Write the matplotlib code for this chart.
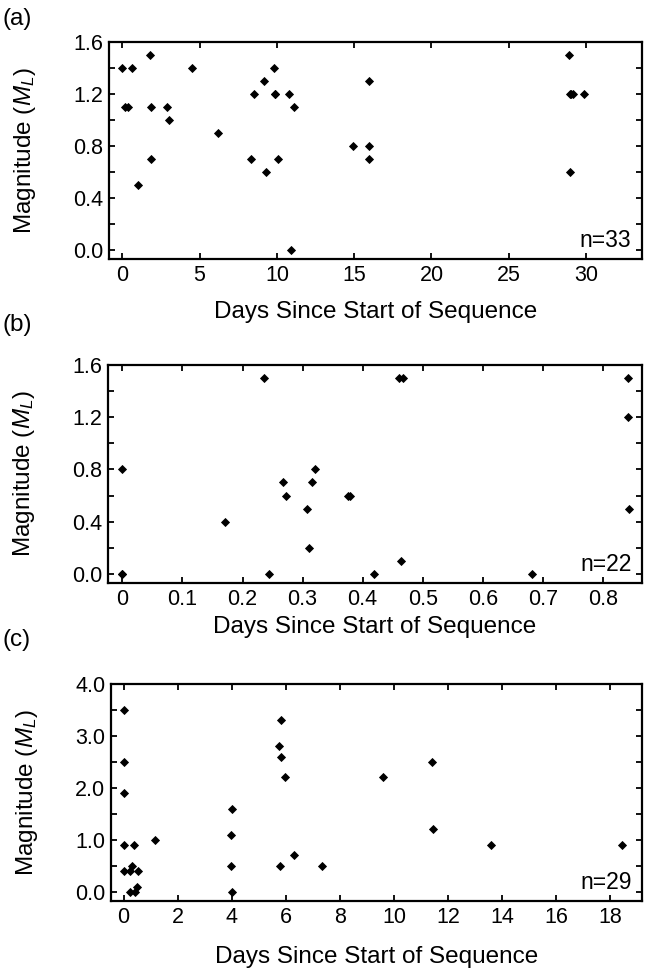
import matplotlib
matplotlib.use("Agg")
import matplotlib.pyplot as plt
from matplotlib.ticker import MultipleLocator, FormatStrFormatter

plt.rcParams['font.family'] = ['Liberation Sans', 'DejaVu Sans']
plt.rcParams['mathtext.fontset'] = 'custom'
plt.rcParams['mathtext.rm'] = 'Liberation Sans'
plt.rcParams['mathtext.it'] = 'Liberation Sans:italic'

# panel (a)
a_days = [0.0, 0.6, 1.8, 4.5, 0.2, 0.4, 1.85, 2.9, 3.0, 6.2, 1.85, 1.0,
          8.55, 9.15, 9.8, 9.85, 10.8, 11.1, 8.3, 9.3, 10.05, 10.9,
          14.95, 15.95, 15.95, 15.95, 28.9, 28.95, 29.15, 29.85, 28.95,
          29.0, 9.85]
a_mag = [1.4, 1.4, 1.5, 1.4, 1.1, 1.1, 1.1, 1.1, 1.0, 0.9, 0.7, 0.5,
         1.2, 1.3, 1.4, 1.2, 1.2, 1.1, 0.7, 0.6, 0.7, 0.0,
         0.8, 0.8, 0.7, 1.3, 1.5, 1.2, 1.2, 1.2, 0.6,
         1.2, 1.2]

# panel (b)
b_days = [0.0, 0.0, 0.17, 0.235, 0.244, 0.267, 0.273, 0.308, 0.31, 0.315,
          0.32, 0.375, 0.379, 0.419, 0.461, 0.467, 0.463, 0.682, 0.841,
          0.841, 0.844, 0.0]
b_mag = [0.8, 0.0, 0.4, 1.5, 0.0, 0.7, 0.6, 0.5, 0.2, 0.7,
         0.8, 0.6, 0.6, 0.0, 1.5, 1.5, 0.1, 0.0, 1.5,
         1.2, 0.5, 0.0]

# panel (c)
c_days = [0.0, 0.02, 0.02, 0.0, 0.39, 1.17, 0.02, 0.22, 0.31, 0.52, 0.22,
          0.41, 0.49, 4.02, 3.98, 3.98, 4.02, 5.82, 5.75, 5.82, 5.98, 5.77,
          6.29, 7.32, 9.6, 11.42, 11.44, 13.58, 18.43]
c_mag = [3.5, 2.5, 1.9, 0.9, 0.9, 1.0, 0.4, 0.4, 0.5, 0.4, 0.0,
         0.0, 0.1, 1.6, 1.1, 0.5, 0.0, 3.3, 2.8, 2.6, 2.2, 0.5,
         0.7, 0.5, 2.2, 2.5, 1.2, 0.9, 0.9]

W, H = 645, 973
fig = plt.figure(figsize=(W / 100, H / 100), dpi=100)


def px_axes(l, r, t, b):
    return fig.add_axes([l / W, 1 - b / H, (r - l) / W, (b - t) / H])


panels = [
    dict(box=(109, 641.7, 41.7, 259.3), x=a_days, y=a_mag, xlim=(-0.86, 33.6),
         ylim=(-0.07, 1.6), xmaj=5, ymaj=0.4, ymin=0.2, xfmt='%d', yfmt='%.1f',
         n='n=33', tag='(a)', tagy=19, xly=-0.19),
    dict(box=(108, 642, 365, 583), x=b_days, y=b_mag, xlim=(-0.024, 0.865),
         ylim=(-0.07, 1.6), xmaj=0.1, ymaj=0.4, ymin=0.2, xfmt='%g', yfmt='%.1f',
         n='n=22', tag='(b)', tagy=325, xly=-0.15),
    dict(box=(110.7, 642.3, 684, 901.3), x=c_days, y=c_mag, xlim=(-0.48, 19.19),
         ylim=(-0.185, 4.0), xmaj=2, ymaj=1.0, ymin=0.5, xfmt='%d', yfmt='%.1f',
         n='n=29', tag='(c)', tagy=640, xly=-0.204),
]

for p in panels:
    ax = px_axes(*p['box'])
    ax.plot(p['x'], p['y'], linestyle='none', marker='D', ms=4.4,
            color='black', mec='black', mew=0.6)
    ax.set_xlim(*p['xlim'])
    ax.set_ylim(*p['ylim'])
    ax.xaxis.set_major_locator(MultipleLocator(p['xmaj']))
    ax.xaxis.set_major_formatter(FormatStrFormatter(p['xfmt']))
    ax.yaxis.set_major_locator(MultipleLocator(p['ymaj']))
    ax.yaxis.set_minor_locator(MultipleLocator(p['ymin']))
    ax.yaxis.set_major_formatter(FormatStrFormatter(p['yfmt']))
    ax.tick_params(which='both', direction='in', top=True, right=True,
                   length=4, width=1.3, labelsize=15.5, pad=4)
    for s in ax.spines.values():
        s.set_linewidth(1.6)
    ax.set_xlabel('Days Since Start of Sequence', fontsize=17.5)
    ax.xaxis.set_label_coords(0.5, p['xly'])
    ax.set_ylabel('Magnitude ($M_L$)', fontsize=17.5)
    ax.yaxis.set_label_coords(-0.133, 0.5)
    ax.text(0.98, 0.055, p['n'], transform=ax.transAxes, ha='right',
            va='baseline', fontsize=16.5)
    fig.text(3 / W, 1 - p['tagy'] / H, p['tag'], ha='left', va='center',
             fontsize=17.5)

fig.savefig('out.png', dpi=100)
